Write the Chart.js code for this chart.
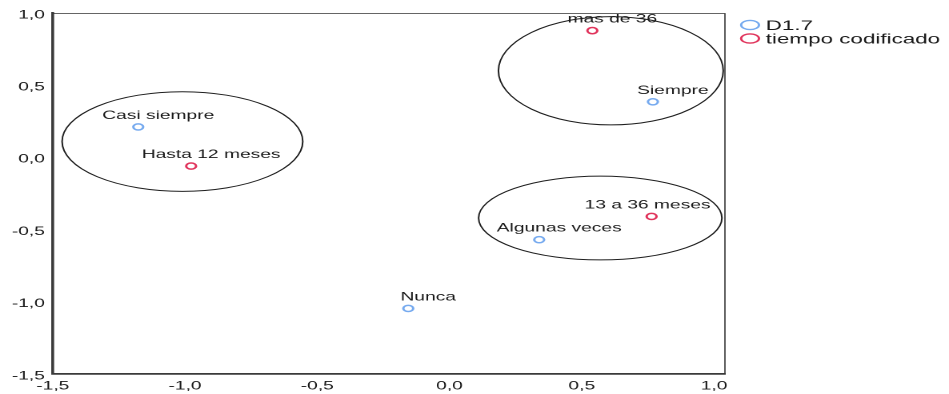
<!DOCTYPE html>
<html>
<head>
<meta charset="utf-8">
<script src="https://cdn.jsdelivr.net/npm/chart.js@4"></script>
<style>
  html, body { margin: 0; padding: 0; background: #fff; overflow: hidden; }
  /* the reference is a horizontally stretched render, so draw narrow and stretch */
  #wrap { width: 593px; height: 394px; transform: scaleX(1.6003); transform-origin: 0 0; }
</style>
</head>
<body>
<div id="wrap"><canvas id="chart" width="593" height="394"></canvas></div>
<script>
// === Data ===
const d17Labels = ['Casi siempre', 'Siempre', 'Algunas veces', 'Nunca'];
const d17X = [-1.177, 0.769, 0.339, -0.156];
const d17Y = [0.211, 0.385, -0.570, -1.046];

const tiempoLabels = ['mas de 36', 'Hasta 12 meses', '13 a 36 meses'];
const tiempoX = [0.540, -0.977, 0.764];
const tiempoY = [0.878, -0.060, -0.409];

const seriesNames = ['D1.7', 'tiempo codificado'];

const xTickValues = [-1.5, -1.0, -0.5, 0.0, 0.5, 1.0];
const yTickValues = [-1.5, -1.0, -0.5, 0.0, 0.5, 1.0];

// groups circled on the map: centre x, centre y, radius x, radius y (data units)
const groupCx = [-1.01, 0.61, 0.57];
const groupCy = [0.11, 0.60, -0.42];
const groupRx = [0.455, 0.425, 0.46];
const groupRy = [0.345, 0.375, 0.29];

const blue = '#76aaef';
const red = '#e0335b';
const FONT = "'Liberation Sans', Arial, sans-serif";

const toPoints = (xs, ys) => xs.map((x, i) => ({ x: x, y: ys[i] }));
const fmt = v => Number(v).toFixed(1).replace('.', ',');

// ellipses, point labels, frame and legend
const extras = {
    id: 'extras',
    afterDatasetsDraw(chart) {
        const ctx = chart.ctx;
        const xs = chart.scales.x, ys = chart.scales.y;
        const area = chart.chartArea;

        // group ellipses
        ctx.save();
        ctx.strokeStyle = '#1e1e1e';
        ctx.lineWidth = 1;
        groupCx.forEach((cx, i) => {
            const px = xs.getPixelForValue(cx);
            const py = ys.getPixelForValue(groupCy[i]);
            const rx = Math.abs(xs.getPixelForValue(cx + groupRx[i]) - px);
            const ry = Math.abs(ys.getPixelForValue(groupCy[i] + groupRy[i]) - py);
            ctx.beginPath();
            ctx.ellipse(px, py, rx, ry, 0, 0, Math.PI * 2);
            ctx.stroke();
        });
        ctx.restore();

        // point labels
        ctx.save();
        ctx.font = '12px ' + FONT;
        ctx.fillStyle = '#1a1a1a';
        ctx.textAlign = 'center';
        ctx.textBaseline = 'alphabetic';
        const labelSets = [d17Labels, tiempoLabels];
        chart.data.datasets.forEach((ds, di) => {
            const meta = chart.getDatasetMeta(di);
            meta.data.forEach((pt, i) => {
                const text = labelSets[di][i];
                const w = ctx.measureText(text).width;
                let cx = pt.x + 12.5;
                if (cx + w / 2 > area.right - 9) cx = area.right - 9 - w / 2;
                ctx.fillText(text, cx, pt.y - 8);
            });
        });
        ctx.restore();

        // frame: top and right edges
        ctx.save();
        ctx.strokeStyle = '#333';
        ctx.lineWidth = 0.8;
        ctx.beginPath();
        ctx.moveTo(area.left, area.top + 0.5);
        ctx.lineTo(area.right, area.top + 0.5);
        ctx.lineTo(area.right, area.bottom);
        ctx.stroke();
        ctx.restore();

        // legend
        ctx.save();
        ctx.font = '14px ' + FONT;
        ctx.textBaseline = 'middle';
        ctx.textAlign = 'left';
        const colors = [blue, red];
        seriesNames.forEach((name, i) => {
            const y = 25 + i * 13.5;
            ctx.beginPath();
            ctx.ellipse(468.7, y, 5.6, 4.6, 0, 0, Math.PI * 2);
            ctx.strokeStyle = colors[i];
            ctx.lineWidth = 1.4;
            ctx.stroke();
            ctx.fillStyle = '#1a1a1a';
            ctx.fillText(name, 478.5, y + 1);
        });
        ctx.restore();
    }
};

new Chart(document.getElementById('chart'), {
    type: 'scatter',
    data: {
        datasets: [
            {
                label: seriesNames[0],
                data: toPoints(d17X, d17Y),
                backgroundColor: 'rgba(0,0,0,0)',
                borderColor: blue,
                borderWidth: 1.5,
                pointRadius: 3.1,
                pointHoverRadius: 3.1
            },
            {
                label: seriesNames[1],
                data: toPoints(tiempoX, tiempoY),
                backgroundColor: 'rgba(0,0,0,0)',
                borderColor: red,
                borderWidth: 1.5,
                pointRadius: 3.1,
                pointHoverRadius: 3.1
            }
        ]
    },
    options: {
        responsive: false,
        animation: false,
        devicePixelRatio: 2,
        layout: { padding: { top: 13, right: 140, left: 0, bottom: 0 } },
        plugins: { legend: { display: false }, tooltip: { enabled: false } },
        scales: {
            x: {
                type: 'linear',
                min: -1.5,
                max: 1.0414,
                grid: { display: false, drawTicks: false },
                border: { display: true, color: '#3a3a3a', width: 1.8 },
                afterBuildTicks: s => { s.ticks = xTickValues.map(v => ({ value: v })); },
                afterFit: s => { s.height = 20; },
                ticks: {
                    padding: 5,
                    color: '#1a1a1a',
                    font: { family: FONT, size: 12 },
                    maxRotation: 0,
                    callback: v => fmt(v)
                }
            },
            y: {
                type: 'linear',
                min: -1.5,
                max: 1.0,
                grid: { display: false, drawTicks: false },
                border: { display: true, color: '#3a3a3a', width: 1.8 },
                afterBuildTicks: s => { s.ticks = yTickValues.map(v => ({ value: v })); },
                afterFit: s => { s.width = 33; },
                ticks: {
                    padding: 5,
                    labelOffset: 2,
                    color: '#1a1a1a',
                    font: { family: FONT, size: 12 },
                    callback: v => fmt(v)
                }
            }
        }
    },
    plugins: [extras]
});
</script>
</body>
</html>
